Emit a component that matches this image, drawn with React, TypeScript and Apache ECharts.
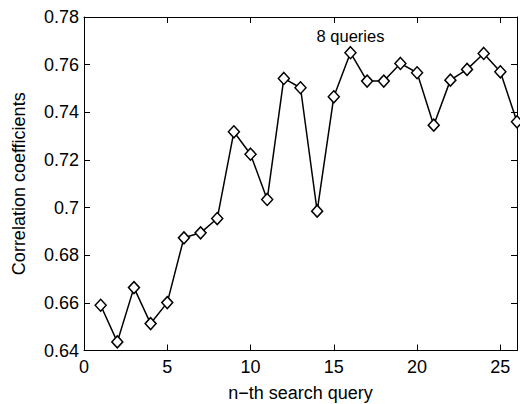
import React, { useEffect, useRef } from "react";
import * as echarts from "echarts";

const queryIndex = [1, 2, 3, 4, 5, 6, 7, 8, 9, 10, 11, 12, 13, 14, 15, 16, 17, 18, 19, 20, 21, 22, 23, 24, 25, 26];
const correlation = [
  0.659, 0.6436, 0.6664, 0.6513, 0.6601, 0.6873, 0.6894, 0.6954, 0.7318, 0.7224,
  0.7034, 0.7542, 0.7503, 0.6985, 0.7465, 0.765, 0.7531, 0.7531, 0.7605, 0.7566,
  0.7346, 0.7535, 0.758, 0.7647, 0.757, 0.736,
];
const xTickValues = [0, 5, 10, 15, 20, 25];
const annotationIndex = 16;
const annotationText = "8 queries";

const FONT = "'Liberation Sans', Arial, Helvetica, sans-serif";

export default function App() {
  const ref = useRef<HTMLDivElement>(null);
  useEffect(() => {
    if (!ref.current) return;
    const chart = echarts.init(ref.current, null, { renderer: "svg" });
    const data = queryIndex.map((x, i) => {
      const item: any = { value: [x, correlation[i]] };
      if (x === annotationIndex) {
        item.label = {
          show: true,
          formatter: annotationText,
          position: "top",
          distance: 1,
          fontSize: 16.5,
          fontFamily: FONT,
          color: "#000",
        };
      }
      return item;
    });
    const tick = { show: true, inside: true, length: 6, lineStyle: { color: "#000", width: 1 } };
    const axisCommon = {
      type: "value" as const,
      axisLine: { show: true, onZero: false, lineStyle: { color: "#000", width: 1 } },
      axisTick: tick,
      splitLine: { show: false },
    };
    chart.setOption({
      animation: false,
      backgroundColor: "#fff",
      grid: {
        left: 84,
        right: 3,
        top: 17,
        bottom: 53.5,
        containLabel: false,
        outerBoundsMode: "none",
      },
      xAxis: [
        {
          ...axisCommon,
          position: "bottom",
          min: 0,
          max: 26,
          interval: 5,
          name: "n\u2212th search query",
          nameLocation: "middle",
          nameGap: 33,
          nameTextStyle: { fontSize: 18, fontFamily: FONT, color: "#000" },
          axisLabel: {
            fontSize: 18,
            fontFamily: FONT,
            color: "#000",
            margin: 7,
            customValues: xTickValues,
          },
          axisTick: { ...tick, customValues: xTickValues },
        },
        {
          ...axisCommon,
          position: "top",
          min: 0,
          max: 26,
          interval: 5,
          axisLabel: { show: false, customValues: xTickValues },
          axisTick: { ...tick, customValues: xTickValues },
        },
      ],
      yAxis: [
        {
          ...axisCommon,
          position: "left",
          min: 0.64,
          max: 0.78,
          interval: 0.02,
          name: "Correlation coefficients",
          nameLocation: "middle",
          nameGap: 56,
          nameTextStyle: { fontSize: 18, fontFamily: FONT, color: "#000" },
          axisLabel: { fontSize: 18, fontFamily: FONT, color: "#000", margin: 5 },
        },
        {
          ...axisCommon,
          position: "right",
          min: 0.64,
          max: 0.78,
          interval: 0.02,
          axisLabel: { show: false },
        },
      ],
      series: [
        {
          type: "line",
          xAxisIndex: 0,
          yAxisIndex: 0,
          data,
          symbol: "diamond",
          symbolSize: [11, 12],
          showAllSymbol: true,
          lineStyle: { color: "#000", width: 1.5 },
          itemStyle: { color: "#fff", borderColor: "#000", borderWidth: 1.5 },
          z: 3,
        },
      ],
    });
    return () => chart.dispose();
  }, []);
  return (
    <div
      ref={ref}
      style={{ position: "fixed", left: 0, top: 0, width: 520, height: 404, background: "#fff" }}
    />
  );
}
